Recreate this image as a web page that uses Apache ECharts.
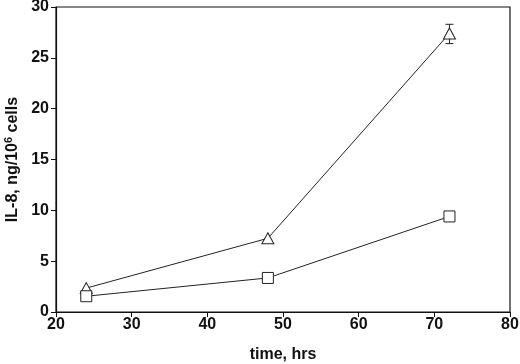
<!DOCTYPE html>
<html lang="en">
<head>
  <meta charset="UTF-8">
  <script src="https://cdn.jsdelivr.net/npm/echarts@6/dist/echarts.min.js"></script>
</head>
<body style="margin:0;background:#fff;">
<div id="main" style="width:520px;height:364px;"></div>
<script>
  // time, hrs
  var hours = [24, 48, 72];
  // IL-8, ng/10^6 cells
  var triangleVals = [2.35, 7.25, 27.4];
  var squareVals = [1.55, 3.35, 9.4];
  // error bar on the last triangle point: [x, low, high]
  var triangleErr = [[72, 26.4, 28.3]];

  var chart = echarts.init(document.getElementById('main'));

  function pairs(xs, ys) {
    var out = [];
    for (var i = 0; i < xs.length; i++) out.push([xs[i], ys[i]]);
    return out;
  }

  var font = 'Liberation Sans, Arial, sans-serif';

  chart.setOption({
    animation: false,
    grid: {left: 56, right: 10, top: 7, bottom: 52, outerBoundsMode: 'none', containLabel: false,
      show: true, borderColor: '#111', borderWidth: 1.2},
    xAxis: {
      type: 'value', min: 20, max: 80, interval: 10,
      name: 'time, hrs', nameLocation: 'middle', nameGap: 35,
      nameTextStyle: {fontFamily: font, fontWeight: 'bold', fontSize: 16, color: '#111'},
      axisLine: {lineStyle: {color: '#111', width: 1.2}},
      axisTick: {length: 5, lineStyle: {color: '#111'}},
      axisLabel: {fontFamily: font, fontWeight: 'bold', fontSize: 16, color: '#111', margin: 5},
      splitLine: {show: false}
    },
    yAxis: {
      type: 'value', min: 0, max: 30, interval: 5,
      name: '{a|IL-8, ng/10}{s|6}{a| cells}', nameLocation: 'middle', nameGap: 33, nameRotate: 90,
      nameTextStyle: {
        fontFamily: font, fontWeight: 'bold', fontSize: 16, color: '#111',
        rich: {
          a: {fontFamily: font, fontWeight: 'bold', fontSize: 16, color: '#111'},
          s: {fontFamily: font, fontWeight: 'bold', fontSize: 11, color: '#111', verticalAlign: 'top', padding: [0, 0, 7, 0]}
        }
      },
      axisLine: {show: true, lineStyle: {color: '#111', width: 1.2}},
      axisTick: {show: true, length: 5, lineStyle: {color: '#111'}},
      axisLabel: {fontFamily: font, fontWeight: 'bold', fontSize: 16, color: '#111', margin: 7},
      splitLine: {show: false}
    },
    series: [{
      name: 'triangle',
      type: 'line',
      data: pairs(hours, triangleVals),
      symbol: 'triangle', symbolSize: [12, 11],
      lineStyle: {color: '#222', width: 1},
      itemStyle: {color: '#fff', borderColor: '#222', borderWidth: 1},
      z: 3
    }, {
      name: 'square',
      type: 'line',
      data: pairs(hours, squareVals),
      symbol: 'rect', symbolSize: 11,
      lineStyle: {color: '#222', width: 1},
      itemStyle: {color: '#fff', borderColor: '#222', borderWidth: 1},
      z: 3
    }, {
      type: 'custom',
      data: triangleErr,
      z: 2,
      renderItem: function (params, api) {
        var x = api.value(0);
        var lo = api.coord([x, api.value(1)]);
        var hi = api.coord([x, api.value(2)]);
        var w = 4;
        var st = {stroke: '#222', lineWidth: 1};
        return {type: 'group', children: [
          {type: 'line', shape: {x1: lo[0], y1: lo[1], x2: hi[0], y2: hi[1]}, style: st},
          {type: 'line', shape: {x1: lo[0] - w, y1: lo[1], x2: lo[0] + w, y2: lo[1]}, style: st},
          {type: 'line', shape: {x1: hi[0] - w, y1: hi[1], x2: hi[0] + w, y2: hi[1]}, style: st}
        ]};
      }
    }]
  });
</script>
</body>
</html>
